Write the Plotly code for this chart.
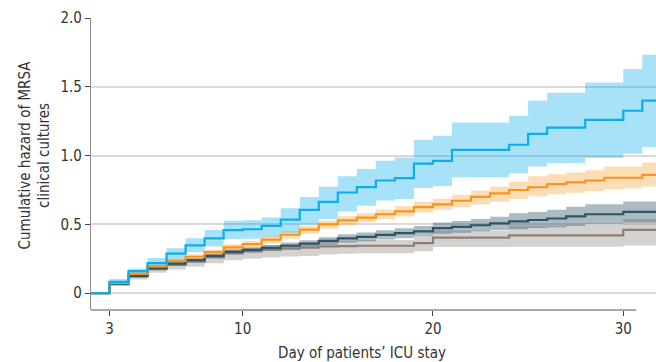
import plotly.graph_objects as go

days = list(range(2, 32))
day_end = 32

blue = [0, 0.082, 0.16, 0.219, 0.287, 0.348, 0.399, 0.459, 0.465, 0.49, 0.535, 0.605, 0.664, 0.732,
        0.771, 0.819, 0.836, 0.942, 0.962, 1.042, 1.042, 1.042, 1.079, 1.158, 1.204, 1.204, 1.26, 1.26,
        1.326, 1.399]
blue_hi = [0, 0.104, 0.18, 0.255, 0.327, 0.40, 0.46, 0.527, 0.53, 0.55, 0.618, 0.70, 0.773, 0.85,
           0.903, 0.963, 0.987, 1.115, 1.144, 1.241, 1.241, 1.241, 1.29, 1.40, 1.456, 1.456, 1.532,
           1.532, 1.629, 1.733]
blue_lo = [0, 0.07, 0.145, 0.196, 0.245, 0.297, 0.34, 0.394, 0.396, 0.41, 0.44, 0.497, 0.54, 0.593,
           0.635, 0.673, 0.684, 0.764, 0.78, 0.843, 0.843, 0.843, 0.87, 0.92, 0.945, 0.945, 0.982,
           0.982, 1.013, 1.062]

orange = [0, 0.075, 0.14, 0.195, 0.235, 0.265, 0.298, 0.333, 0.357, 0.39, 0.425, 0.462, 0.5, 0.53,
          0.55, 0.574, 0.595, 0.625, 0.645, 0.672, 0.70, 0.726, 0.75, 0.77, 0.793, 0.805, 0.819,
          0.839, 0.839, 0.86]
orange_hi = [0, 0.085, 0.155, 0.21, 0.252, 0.284, 0.318, 0.356, 0.382, 0.416, 0.452, 0.49, 0.528,
             0.56, 0.582, 0.608, 0.632, 0.664, 0.686, 0.716, 0.746, 0.774, 0.81, 0.85, 0.865, 0.877,
             0.894, 0.92, 0.92, 0.95]
orange_lo = [0, 0.065, 0.125, 0.18, 0.218, 0.246, 0.278, 0.31, 0.333, 0.363, 0.396, 0.432, 0.468,
             0.496, 0.516, 0.538, 0.558, 0.586, 0.605, 0.625, 0.645, 0.665, 0.685, 0.705, 0.72,
             0.73, 0.742, 0.755, 0.762, 0.775]

slate = [0, 0.07, 0.125, 0.18, 0.215, 0.24, 0.272, 0.3, 0.315, 0.33, 0.345, 0.36, 0.38, 0.398,
         0.41, 0.424, 0.436, 0.45, 0.473, 0.482, 0.494, 0.507, 0.522, 0.532, 0.543, 0.558, 0.574,
         0.574, 0.591, 0.591]
slate_hi = [0, 0.075, 0.133, 0.19, 0.227, 0.254, 0.288, 0.318, 0.333, 0.35, 0.368, 0.385, 0.407,
            0.428, 0.442, 0.458, 0.472, 0.488, 0.514, 0.525, 0.54, 0.556, 0.582, 0.59, 0.606,
            0.628, 0.647, 0.647, 0.666, 0.666]
slate_lo = [0, 0.065, 0.117, 0.17, 0.203, 0.226, 0.256, 0.283, 0.297, 0.31, 0.322, 0.335, 0.353,
            0.368, 0.378, 0.39, 0.4, 0.412, 0.432, 0.44, 0.45, 0.46, 0.465, 0.473, 0.48, 0.489,
            0.502, 0.502, 0.514, 0.514]

gray = [0, 0.065, 0.12, 0.175, 0.205, 0.23, 0.26, 0.29, 0.303, 0.315, 0.324, 0.332, 0.34, 0.342,
        0.345, 0.345, 0.345, 0.364, 0.404, 0.404, 0.404, 0.404, 0.42, 0.42, 0.42, 0.42, 0.42, 0.42,
        0.46, 0.46]
gray_hi = [0, 0.072, 0.13, 0.19, 0.222, 0.25, 0.283, 0.316, 0.332, 0.346, 0.357, 0.367, 0.378,
           0.382, 0.387, 0.387, 0.387, 0.41, 0.456, 0.456, 0.456, 0.456, 0.49, 0.49, 0.49, 0.495,
           0.495, 0.495, 0.54, 0.54]
gray_lo = [0, 0.055, 0.1, 0.148, 0.172, 0.192, 0.218, 0.24, 0.25, 0.26, 0.266, 0.271, 0.282,
           0.286, 0.29, 0.29, 0.29, 0.305, 0.335, 0.335, 0.335, 0.335, 0.337, 0.337, 0.337, 0.337,
           0.337, 0.337, 0.347, 0.347]

y_ticks = [0, 0.5, 1.0, 1.5, 2.0]
y_ticktext = ["0", "0.5", "1.0", "1.5", "2.0"]
x_ticks = [3, 10, 20, 30]

FONT = "DejaVu Sans Condensed, DejaVu Sans, sans-serif"


def ext(v):
    return list(v) + [v[-1]]


xs = days + [day_end]

series = [
    (gray, gray_lo, gray_hi, "#8a8078", "rgba(139,128,118,0.36)"),
    (slate, slate_lo, slate_hi, "#2e5566", "rgba(47,85,102,0.40)"),
    (orange, orange_lo, orange_hi, "#f7941d", "rgba(247,148,29,0.32)"),
    (blue, blue_lo, blue_hi, "#0baee8", "rgba(0,170,235,0.34)"),
]

fig = go.Figure()
for mid, lo, hi, lc, fc in series:
    fig.add_trace(go.Scatter(x=xs, y=ext(lo), mode="lines", line=dict(width=0, shape="hv"),
                             hoverinfo="skip", showlegend=False))
    fig.add_trace(go.Scatter(x=xs, y=ext(hi), mode="lines", line=dict(width=0, shape="hv"),
                             fill="tonexty", fillcolor=fc, hoverinfo="skip", showlegend=False))
for mid, lo, hi, lc, fc in series:
    fig.add_trace(go.Scatter(x=xs, y=ext(mid), mode="lines", line=dict(width=2.2, color=lc, shape="hv"),
                             showlegend=False))

fig.update_layout(
    width=656, height=362,
    margin=dict(l=91, r=0, t=18, b=52),
    paper_bgcolor="white", plot_bgcolor="white",
    font=dict(family=FONT, size=14, color="#333333"),
    showlegend=False,
)
fig.update_xaxes(
    range=[2.03, 31.72], tickvals=x_ticks, showgrid=False, zeroline=False,
    showline=False, ticks="outside", ticklen=5, tickcolor="#444444", tickwidth=1,
    tickfont=dict(family=FONT, size=15, color="#333333"),
)
fig.update_yaxes(
    range=[-0.122, 2.0], tickvals=y_ticks, ticktext=y_ticktext,
    showgrid=True, gridcolor="#dadada", gridwidth=1.5, zeroline=False,
    showline=True, linecolor="#8c8c8c", linewidth=1.3,
    ticks="outside", ticklen=5, tickcolor="#444444", tickwidth=1,
    tickfont=dict(family=FONT, size=15, color="#333333"),
)
fig.add_shape(type="line", xref="paper", yref="paper", x0=0, x1=0.9646, y0=0, y1=0,
              line=dict(color="#8c8c8c", width=1.3))
fig.add_annotation(text="Day of patients’ ICU stay", xref="paper", yref="paper",
                   x=0.4797, y=-0.11, xanchor="center", yanchor="top", showarrow=False,
                   font=dict(family=FONT, size=15, color="#333333"))
fig.add_annotation(text="Cumulative hazard of MRSA<br>clinical cultures", xref="paper", yref="paper",
                   x=-0.1, y=0.531, xanchor="center", yanchor="middle", textangle=-90,
                   showarrow=False, font=dict(family=FONT, size=15, color="#333333"))

fig.write_html("out.html", config={"displayModeBar": False},
               post_script="document.body.style.margin='0';document.body.style.overflow='hidden';")
